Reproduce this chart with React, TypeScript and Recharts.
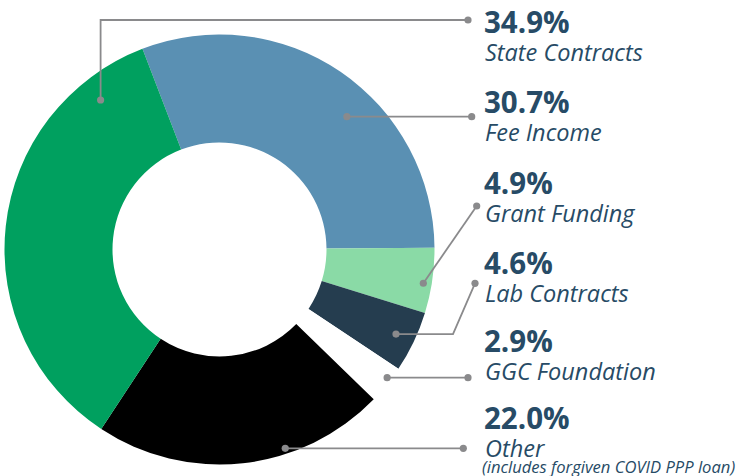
import { PieChart, Pie, Cell } from 'recharts';

// revenue mix, clockwise from the top of the ring
const categories = ['Fee Income', 'Grant Funding', 'Lab Contracts', 'GGC Foundation', 'Other', 'State Contracts'];
const shares = [30.7, 4.9, 4.6, 2.9, 22.0, 34.9];
const notes = ['', '', '', '', '(includes forgiven COVID PPP loan)', ''];
const colors = ['#5a90b3', '#8adaa6', '#253d4f', '#ffffff', '#000000', '#00a05f'];

const data = categories.map((name, i) => ({ name, value: shares[i], note: notes[i] }));

const TEXT = '#274b66';
const LINE = '#8a8a8c';
const FONT = '"Open Sans", sans-serif';

// leader lines: dot in polar (deg clockwise from top, radius), then elbow/end points, then text anchor
const LEADERS = [
  { dot: [43.8, 184], path: [[471.7, 116.7]], text: [484, 113] },
  { dot: [99.4, 206.6], path: [[476.7, 206]], text: [484, 194] },
  { dot: [115.6, 195.7], path: [[453, 334], [475, 283.3]], text: [484, 274] },
  { dot: [127.4, 211], path: [[468, 377.7]], text: [484, 352] },
  { dot: [161.7, 209.4], path: [[463.3, 448.3]], text: [484, 429] },
  { dot: [-38.5, 191], path: [['x', 20], [468, 20]], text: [484, 33] },
];

const renderLabel = (props: any) => {
  const { cx, cy, index } = props;
  const l = LEADERS[index];
  const a = (l.dot[0] * Math.PI) / 180;
  const dx = cx + l.dot[1] * Math.sin(a);
  const dy = cy - l.dot[1] * Math.cos(a);
  const pts = [[dx, dy], ...l.path.map(p => [p[0] === 'x' ? dx : p[0], p[1]])] as number[][];
  const end = pts[pts.length - 1];
  const d = data[index];
  return (
    <g key={`lbl-${index}`}>
      <polyline
        points={pts.map(p => p.join(',')).join(' ')}
        fill="none"
        stroke={LINE}
        strokeWidth={1.8}
      />
      <circle cx={dx} cy={dy} r={3.6} fill={LINE} />
      <circle cx={end[0]} cy={end[1]} r={3.6} fill={LINE} />
      <text x={l.text[0]} y={l.text[1]} fill={TEXT} fontFamily={FONT} fontWeight={700} fontSize={29.5}>
        {d.value.toFixed(1)}%
      </text>
      <text x={l.text[0] + 1} y={l.text[1] + 27.5} fill={TEXT} fontFamily={FONT} fontStyle="italic" fontSize={23.5}>
        {d.name}
      </text>
      {d.note && (
        <text x={l.text[0] - 2} y={l.text[1] + 44} fill={TEXT} fontFamily={FONT} fontStyle="italic" fontSize={16.6}>
          {d.note}
        </text>
      )}
    </g>
  );
};

export default function App() {
  return (
    <div style={{ position: 'absolute', left: 0, top: 0, width: 739, height: 476, background: '#fff' }}>
      <PieChart width={739} height={476} margin={{ top: 0, right: 0, bottom: 0, left: 0 }}>
        <Pie
          data={data}
          dataKey="value"
          cx={219.5}
          cy={249.5}
          innerRadius={107}
          outerRadius={215}
          startAngle={111}
          endAngle={-249}
          stroke="none"
          label={renderLabel}
          labelLine={false}
          isAnimationActive={false}
        >
          {data.map((entry, index) => (
            <Cell key={`cell-${index}`} fill={colors[index]} strokeWidth={0} />
          ))}
        </Pie>
      </PieChart>
    </div>
  );
}
